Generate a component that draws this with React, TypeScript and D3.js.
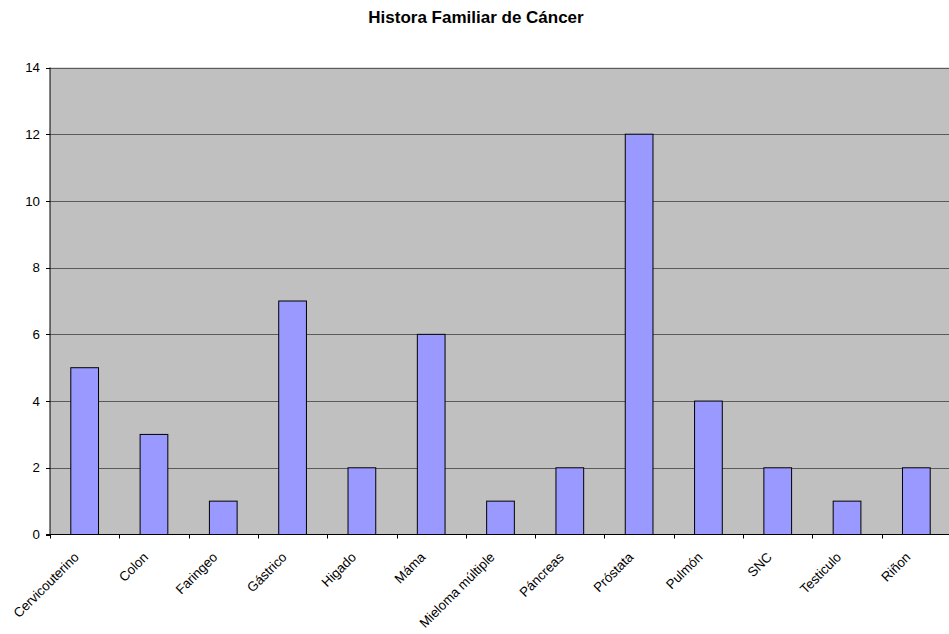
import React from "react";
import * as d3 from "d3";

const categories = [
  "Cervicouterino", "Colon", "Faringeo", "Gástrico", "Higado", "Máma",
  "Mieloma múltiple", "Páncreas", "Próstata", "Pulmón", "SNC", "Testiculo", "Riñon",
];
const counts = [5, 3, 1, 7, 2, 6, 1, 2, 12, 4, 2, 1, 2];
const yTicks = [0, 2, 4, 6, 8, 10, 12, 14];
const title = "Histora Familiar de Cáncer";

const W = 949;
const H = 634;
const left = 50;
const right = 951;
const top = 67.5;
const bottom = 534.5;
const font = "'Liberation Sans', Arial, sans-serif";
const labelSize = 13.3;

export default function App() {
  const x = d3.scaleBand<string>().domain(categories).range([left, right]).paddingInner(0.6).paddingOuter(0.3);
  const step = x.step();
  const y = d3.scaleLinear().domain([0, 14]).range([bottom, top]);

  return (
    <svg width={W} height={H} style={{ position: "absolute", left: 0, top: 0 }} fontFamily={font}>
      <rect x={0} y={0} width={W} height={H} fill="#fff" />
      <text x={476} y={23} textAnchor="middle" fontSize={17} fontWeight="bold" fill="#000">{title}</text>
      <rect x={left} y={top} width={right - left} height={bottom - top} fill="#C0C0C0" />
      {yTicks.filter((t) => t > 0).map((t) => (
        <line key={t} x1={left} x2={right} y1={Math.round(y(t)) + 0.5} y2={Math.round(y(t)) + 0.5} stroke="#5a5a5a" strokeWidth={1.2} />
      ))}
      {categories.map((c, i) => (
        <rect key={c} x={x(c)!} y={y(counts[i])} width={x.bandwidth()} height={y(0) - y(counts[i])}
          fill="#9999FF" stroke="#000" strokeWidth={1} />
      ))}
      <line x1={left} x2={left} y1={top} y2={bottom} stroke="#000" strokeWidth={1} />
      <line x1={left - 4} x2={right} y1={bottom} y2={bottom} stroke="#000" strokeWidth={1} />
      {yTicks.map((t) => (
        <g key={t}>
          <line x1={left - 4} x2={left} y1={Math.round(y(t)) + 0.5} y2={Math.round(y(t)) + 0.5} stroke="#000" />
          <text x={left - 10} y={y(t)} dy="0.35em" textAnchor="end" fontSize={labelSize} fill="#000">{t}</text>
        </g>
      ))}
      {categories.map((c, i) => {
        const bx = left + step * i;
        const cx = bx + step / 2;
        return (
          <g key={c}>
            <line x1={Math.round(bx) + 0.5} x2={Math.round(bx) + 0.5} y1={bottom} y2={bottom + 4} stroke="#000" />
            <text transform={`translate(${cx - 5},${bottom + 23.5}) rotate(-45)`} textAnchor="end" fontSize={labelSize} fill="#000">{c}</text>
          </g>
        );
      })}
    </svg>
  );
}
